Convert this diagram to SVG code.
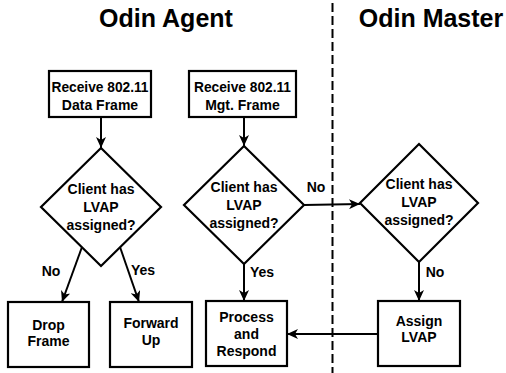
<svg xmlns="http://www.w3.org/2000/svg" width="506" height="373" viewBox="0 0 506 373">
  <style>
    text { font-family: "Liberation Sans", Arial, Helvetica, sans-serif; font-weight: bold; fill: #000; text-anchor: middle; }
    .title { font-size: 25px; }
    .lbl { font-size: 14px; }
    .shape { fill: #fff; stroke: #000; stroke-width: 2.2; }
    .conn { fill: none; stroke: #000; stroke-width: 2; }
    .divider { fill: none; stroke: #000; stroke-width: 2; stroke-dasharray: 9 4; }
  </style>
  <defs>
    <marker id="arrow" markerUnits="userSpaceOnUse" markerWidth="12" markerHeight="10" refX="11" refY="5" orient="auto">
      <path d="M0,0 L11,5 L0,10 L3,5 Z" fill="#000"/>
    </marker>
  </defs>
  <rect width="506" height="373" fill="#fff"/>

  <!-- section headings and divider -->
  <text class="title" x="166" y="27">Odin Agent</text>
  <text class="title" x="431" y="27">Odin Master</text>
  <line class="divider" x1="332.5" y1="3" x2="332.5" y2="373"/>

  <!-- connectors -->
  <g id="connectors">
    <line class="conn" x1="101" y1="117" x2="101" y2="148" marker-end="url(#arrow)"/>
    <line class="conn" x1="244" y1="117" x2="244" y2="146" marker-end="url(#arrow)"/>
    <line class="conn" x1="82" y1="247" x2="62" y2="302" marker-end="url(#arrow)"/>
    <line class="conn" x1="120" y1="247" x2="139" y2="302" marker-end="url(#arrow)"/>
    <line class="conn" x1="244" y1="264" x2="244" y2="301" marker-end="url(#arrow)"/>
    <line class="conn" x1="304" y1="205" x2="360" y2="204" marker-end="url(#arrow)"/>
    <line class="conn" x1="419" y1="262" x2="419" y2="301" marker-end="url(#arrow)"/>
    <line class="conn" x1="378" y1="334" x2="287" y2="334" marker-end="url(#arrow)"/>
    <text class="lbl" x="51" y="276">No</text>
    <text class="lbl" x="143" y="275">Yes</text>
    <text class="lbl" x="262" y="277">Yes</text>
    <text class="lbl" x="316" y="192">No</text>
    <text class="lbl" x="435" y="277">No</text>
  </g>

  <g id="rx-data">
    <rect class="shape" x="49" y="71" width="102" height="46"/>
    <text class="lbl" x="100" y="92" textLength="97" lengthAdjust="spacingAndGlyphs">Receive 802.11</text>
    <text class="lbl" x="100" y="110">Data Frame</text>
  </g>

  <g id="rx-mgt">
    <rect class="shape" x="189" y="71" width="107" height="46"/>
    <text class="lbl" x="242.5" y="92" textLength="97" lengthAdjust="spacingAndGlyphs">Receive 802.11</text>
    <text class="lbl" x="242.5" y="110">Mgt. Frame</text>
  </g>

  <g id="check-data">
    <polygon class="shape" points="101,148 161,207 101,266 41,207"/>
    <text class="lbl" x="101" y="194">Client has</text>
    <text class="lbl" x="101" y="212">LVAP</text>
    <text class="lbl" x="101" y="230">assigned?</text>
  </g>

  <g id="check-mgt">
    <polygon class="shape" points="244,146 304,205 244,264 184,205"/>
    <text class="lbl" x="244" y="192">Client has</text>
    <text class="lbl" x="244" y="210">LVAP</text>
    <text class="lbl" x="244" y="228">assigned?</text>
  </g>

  <g id="check-master">
    <polygon class="shape" points="419,144 478,203 419,262 360,203"/>
    <text class="lbl" x="419" y="189">Client has</text>
    <text class="lbl" x="419" y="207">LVAP</text>
    <text class="lbl" x="419" y="225">assigned?</text>
  </g>

  <g id="drop-frame">
    <rect class="shape" x="8" y="302" width="81" height="65"/>
    <text class="lbl" x="48.5" y="330">Drop</text>
    <text class="lbl" x="48.5" y="346">Frame</text>
  </g>

  <g id="forward-up">
    <rect class="shape" x="110" y="302" width="82" height="65"/>
    <text class="lbl" x="151" y="328">Forward</text>
    <text class="lbl" x="151" y="345">Up</text>
  </g>

  <g id="process-respond">
    <rect class="shape" x="206" y="301" width="81" height="65"/>
    <text class="lbl" x="246.5" y="322">Process</text>
    <text class="lbl" x="246.5" y="339">and</text>
    <text class="lbl" x="246.5" y="356">Respond</text>
  </g>

  <g id="assign-lvap">
    <rect class="shape" x="378" y="301" width="82" height="65"/>
    <text class="lbl" x="419" y="326">Assign</text>
    <text class="lbl" x="419" y="342">LVAP</text>
  </g>
</svg>
